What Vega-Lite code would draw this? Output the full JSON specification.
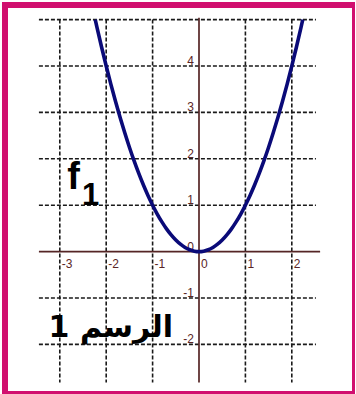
{
  "$schema": "https://vega.github.io/schema/vega-lite/v6.json",
  "width": 350,
  "height": 389,
  "autosize": {"type": "none"},
  "padding": {"left": 5, "top": 5, "right": 0, "bottom": 0},
  "background": "white",
  "config": {"view": {"stroke": "#d10f6f", "strokeWidth": 6}},
  "datasets": {
    "hgrid": [{"y": -2}, {"y": -1}, {"y": 1}, {"y": 2}, {"y": 3}, {"y": 4}, {"y": 5}],
    "vgrid": [{"x": -3}, {"x": -2}, {"x": -1}, {"x": 1}, {"x": 2}],
    "xlab": [{"v": -3, "t": "-3"}, {"v": -2, "t": "-2"}, {"v": -1, "t": "-1"}, {"v": 0, "t": "0"}, {"v": 1, "t": "1"}, {"v": 2, "t": "2"}],
    "ylab": [{"v": -2, "t": "-2"}, {"v": -1, "t": "-1"}, {"v": 0, "t": "0"}, {"v": 1, "t": "1"}, {"v": 2, "t": "2"}, {"v": 3, "t": "3"}, {"v": 4, "t": "4"}],
    "curve": [
      {"x": -2.236, "y": 5.0}, {"x": -2.2, "y": 4.84}, {"x": -2.1, "y": 4.41}, {"x": -2.0, "y": 4.0},
      {"x": -1.9, "y": 3.61}, {"x": -1.8, "y": 3.24}, {"x": -1.7, "y": 2.89}, {"x": -1.6, "y": 2.56},
      {"x": -1.5, "y": 2.25}, {"x": -1.4, "y": 1.96}, {"x": -1.3, "y": 1.69}, {"x": -1.2, "y": 1.44},
      {"x": -1.1, "y": 1.21}, {"x": -1.0, "y": 1.0}, {"x": -0.9, "y": 0.81}, {"x": -0.8, "y": 0.64},
      {"x": -0.7, "y": 0.49}, {"x": -0.6, "y": 0.36}, {"x": -0.5, "y": 0.25}, {"x": -0.4, "y": 0.16},
      {"x": -0.3, "y": 0.09}, {"x": -0.2, "y": 0.04}, {"x": -0.1, "y": 0.01}, {"x": 0.0, "y": 0.0},
      {"x": 0.1, "y": 0.01}, {"x": 0.2, "y": 0.04}, {"x": 0.3, "y": 0.09}, {"x": 0.4, "y": 0.16},
      {"x": 0.5, "y": 0.25}, {"x": 0.6, "y": 0.36}, {"x": 0.7, "y": 0.49}, {"x": 0.8, "y": 0.64},
      {"x": 0.9, "y": 0.81}, {"x": 1.0, "y": 1.0}, {"x": 1.1, "y": 1.21}, {"x": 1.2, "y": 1.44},
      {"x": 1.3, "y": 1.69}, {"x": 1.4, "y": 1.96}, {"x": 1.5, "y": 2.25}, {"x": 1.6, "y": 2.56},
      {"x": 1.7, "y": 2.89}, {"x": 1.8, "y": 3.24}, {"x": 1.9, "y": 3.61}, {"x": 2.0, "y": 4.0},
      {"x": 2.1, "y": 4.41}, {"x": 2.2, "y": 4.84}, {"x": 2.236, "y": 5.0}
    ],
    "notes": [{"label": "f", "x": -2.84, "y": 1.35}, {"label": "الرسم 1", "x": -1.9, "y": -1.84}],
    "sub": [{"label": "1", "x": -2.52, "y": 1.0}]
  },
  "layer": [
    {
      "data": {"name": "hgrid"},
      "mark": {"type": "rule", "color": "#1a1a1a", "strokeWidth": 1.6, "strokeDash": [4, 2]},
      "encoding": {
        "y": {"field": "y", "type": "quantitative", "scale": {"domain": [-3.069, 5.315], "nice": false, "zero": false}, "axis": null},
        "x": {"datum": -3.45, "type": "quantitative", "scale": {"domain": [-4.181, 3.362], "nice": false, "zero": false}, "axis": null},
        "x2": {"datum": 2.52}
      }
    },
    {
      "data": {"name": "vgrid"},
      "mark": {"type": "rule", "color": "#1a1a1a", "strokeWidth": 1.6, "strokeDash": [4, 2]},
      "encoding": {
        "x": {"field": "x", "type": "quantitative"},
        "y": {"datum": 5, "type": "quantitative"},
        "y2": {"datum": -2.82}
      }
    },
    {
      "data": {"values": [{"a": 1}]},
      "mark": {"type": "rule", "color": "#552525", "strokeWidth": 1.7},
      "encoding": {
        "y": {"datum": 0, "type": "quantitative"},
        "x": {"datum": -3.45, "type": "quantitative"},
        "x2": {"datum": 2.61}
      }
    },
    {
      "data": {"values": [{"a": 1}]},
      "mark": {"type": "rule", "color": "#552525", "strokeWidth": 1.7},
      "encoding": {
        "x": {"datum": 0, "type": "quantitative"},
        "y": {"datum": -2.82, "type": "quantitative"},
        "y2": {"datum": 5.04}
      }
    },
    {
      "data": {"name": "xlab"},
      "mark": {"type": "text", "align": "left", "baseline": "top", "dx": 2, "dy": 7, "fontSize": 12, "font": "Liberation Sans", "color": "#5a2626"},
      "encoding": {
        "x": {"field": "v", "type": "quantitative"},
        "y": {"datum": 0, "type": "quantitative"},
        "text": {"field": "t"}
      }
    },
    {
      "data": {"name": "ylab"},
      "mark": {"type": "text", "align": "right", "baseline": "alphabetic", "dx": -5, "dy": -1, "fontSize": 12, "font": "Liberation Sans", "color": "#5a2626"},
      "encoding": {
        "y": {"field": "v", "type": "quantitative"},
        "x": {"datum": 0, "type": "quantitative"},
        "text": {"field": "t"}
      }
    },
    {
      "data": {"name": "curve"},
      "mark": {"type": "line", "color": "#0a0a78", "strokeWidth": 3.6, "interpolate": "monotone"},
      "encoding": {
        "x": {"field": "x", "type": "quantitative"},
        "y": {"field": "y", "type": "quantitative"}
      }
    },
    {
      "data": {"name": "notes"},
      "transform": [{"filter": "datum.label == 'f'"}],
      "mark": {"type": "text", "align": "left", "baseline": "alphabetic", "fontSize": 38, "fontWeight": "bold", "font": "Liberation Sans", "color": "black"},
      "encoding": {
        "x": {"field": "x", "type": "quantitative"},
        "y": {"field": "y", "type": "quantitative"},
        "text": {"field": "label"}
      }
    },
    {
      "data": {"name": "sub"},
      "mark": {"type": "text", "align": "left", "baseline": "alphabetic", "fontSize": 31, "fontWeight": "bold", "font": "Liberation Sans", "color": "black"},
      "encoding": {
        "x": {"field": "x", "type": "quantitative"},
        "y": {"field": "y", "type": "quantitative"},
        "text": {"field": "label"}
      }
    },
    {
      "data": {"name": "notes"},
      "transform": [{"filter": "datum.label != 'f'"}],
      "mark": {"type": "text", "align": "center", "baseline": "alphabetic", "dir": "rtl", "fontSize": 30, "fontWeight": "bold", "font": "DejaVu Sans", "color": "black"},
      "encoding": {
        "x": {"field": "x", "type": "quantitative"},
        "y": {"field": "y", "type": "quantitative"},
        "text": {"field": "label"}
      }
    }
  ]
}
